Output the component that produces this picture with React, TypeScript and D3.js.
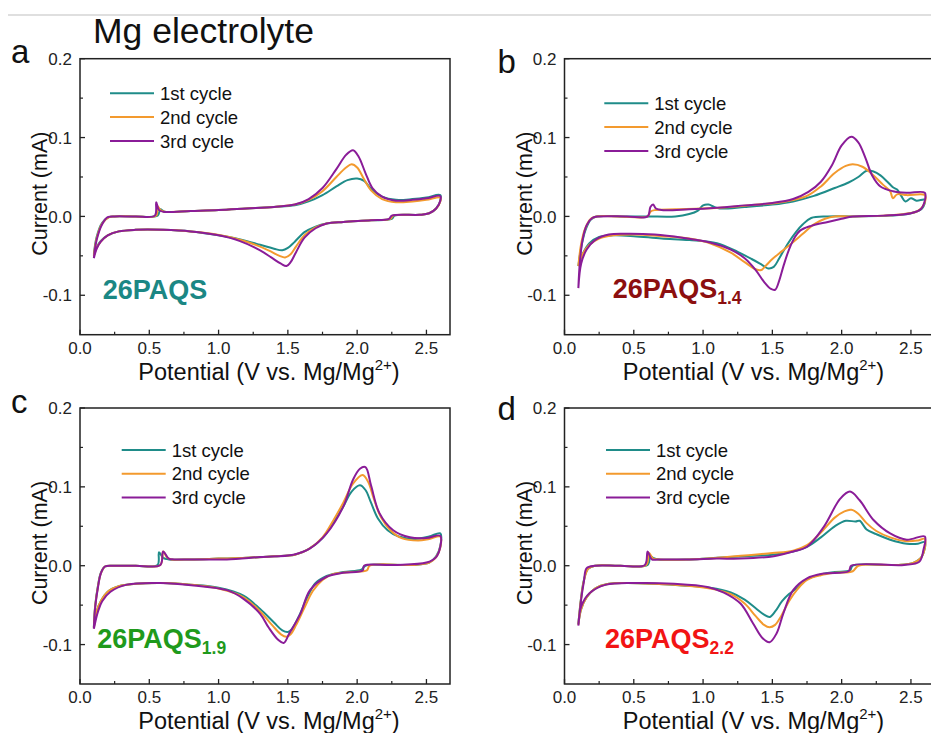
import * as d3 from 'd3'

type Pt = [number, number]

// potential (V) vs current (mA), each cycle traced as one closed loop
const aCycle1: Pt[] = [[0.10,-0.048],[0.12,-0.026],[0.16,-0.008],[0.21,-0.001],[0.25,0.000],[0.40,0.000],[0.56,0.001],[0.58,0.009],[0.61,0.006],[0.80,0.007],[1.00,0.008],[1.20,0.010],[1.40,0.012],[1.55,0.014],[1.65,0.019],[1.75,0.027],[1.85,0.038],[1.93,0.046],[2.00,0.048],[2.05,0.045],[2.10,0.035],[2.18,0.025],[2.28,0.021],[2.40,0.022],[2.50,0.024],[2.60,0.027],[2.60,0.020],[2.57,0.010],[2.52,0.004],[2.45,0.002],[2.27,0.001],[2.25,-0.003],[2.10,-0.005],[1.90,-0.007],[1.78,-0.009],[1.70,-0.013],[1.62,-0.020],[1.55,-0.032],[1.50,-0.040],[1.46,-0.043],[1.40,-0.041],[1.30,-0.036],[1.15,-0.029],[1.00,-0.024],[0.80,-0.019],[0.60,-0.017],[0.40,-0.017],[0.28,-0.019],[0.20,-0.024],[0.15,-0.031],[0.12,-0.039],[0.10,-0.048]]
const aCycle2: Pt[] = [[0.10,-0.050],[0.12,-0.028],[0.16,-0.009],[0.21,-0.001],[0.25,0.000],[0.40,0.000],[0.55,0.001],[0.56,0.013],[0.58,0.008],[0.61,0.006],[0.80,0.007],[1.00,0.008],[1.20,0.010],[1.40,0.012],[1.55,0.015],[1.65,0.021],[1.75,0.032],[1.85,0.050],[1.92,0.062],[1.96,0.066],[2.00,0.062],[2.05,0.047],[2.10,0.033],[2.18,0.022],[2.28,0.018],[2.40,0.019],[2.50,0.021],[2.60,0.024],[2.60,0.019],[2.57,0.010],[2.52,0.004],[2.45,0.002],[2.26,0.001],[2.24,-0.003],[2.10,-0.005],[1.90,-0.007],[1.78,-0.009],[1.70,-0.014],[1.62,-0.024],[1.56,-0.038],[1.52,-0.048],[1.48,-0.052],[1.44,-0.050],[1.36,-0.043],[1.25,-0.035],[1.10,-0.027],[0.95,-0.022],[0.80,-0.019],[0.60,-0.017],[0.40,-0.017],[0.28,-0.019],[0.20,-0.024],[0.15,-0.032],[0.12,-0.040],[0.10,-0.050]]
const aCycle3: Pt[] = [[0.10,-0.053],[0.12,-0.030],[0.16,-0.010],[0.20,-0.001],[0.25,0.000],[0.40,0.000],[0.54,0.001],[0.55,0.018],[0.57,0.008],[0.60,0.006],[0.80,0.007],[1.00,0.008],[1.20,0.010],[1.40,0.012],[1.55,0.015],[1.65,0.022],[1.75,0.036],[1.85,0.060],[1.92,0.078],[1.97,0.084],[2.01,0.076],[2.06,0.055],[2.11,0.036],[2.18,0.025],[2.28,0.020],[2.40,0.021],[2.50,0.023],[2.60,0.026],[2.60,0.020],[2.57,0.010],[2.52,0.004],[2.45,0.002],[2.25,0.001],[2.23,-0.003],[2.10,-0.005],[1.90,-0.007],[1.78,-0.009],[1.70,-0.015],[1.62,-0.027],[1.56,-0.045],[1.52,-0.058],[1.49,-0.063],[1.45,-0.060],[1.38,-0.052],[1.30,-0.043],[1.15,-0.031],[1.00,-0.024],[0.80,-0.019],[0.60,-0.017],[0.40,-0.017],[0.28,-0.019],[0.20,-0.024],[0.15,-0.032],[0.12,-0.041],[0.10,-0.053]]

const bCycle1: Pt[] = [[0.10,-0.063],[0.12,-0.040],[0.15,-0.018],[0.19,-0.004],[0.23,0.000],[0.40,0.000],[0.60,0.000],[0.80,0.000],[0.90,0.003],[0.96,0.007],[1.00,0.014],[1.04,0.015],[1.08,0.012],[1.12,0.010],[1.30,0.012],[1.50,0.015],[1.65,0.019],[1.80,0.026],[1.95,0.036],[2.05,0.043],[2.12,0.050],[2.18,0.058],[2.23,0.057],[2.28,0.052],[2.33,0.044],[2.37,0.037],[2.40,0.034],[2.43,0.026],[2.46,0.019],[2.50,0.023],[2.54,0.020],[2.60,0.021],[2.58,0.010],[2.50,0.004],[2.35,0.001],[2.10,0.000],[1.90,0.000],[1.78,-0.002],[1.72,-0.010],[1.67,-0.020],[1.61,-0.035],[1.55,-0.053],[1.51,-0.064],[1.47,-0.066],[1.43,-0.062],[1.35,-0.054],[1.25,-0.045],[1.10,-0.034],[0.90,-0.030],[0.70,-0.028],[0.50,-0.025],[0.35,-0.024],[0.25,-0.026],[0.18,-0.034],[0.13,-0.048],[0.10,-0.063]]
const bCycle2: Pt[] = [[0.10,-0.063],[0.12,-0.035],[0.15,-0.015],[0.19,-0.003],[0.23,0.000],[0.40,0.000],[0.60,0.000],[0.62,0.006],[0.65,0.008],[0.80,0.009],[1.00,0.010],[1.20,0.012],[1.40,0.015],[1.60,0.019],[1.75,0.026],[1.85,0.038],[1.95,0.055],[2.03,0.064],[2.08,0.066],[2.15,0.063],[2.23,0.052],[2.30,0.040],[2.35,0.032],[2.37,0.023],[2.40,0.028],[2.47,0.027],[2.60,0.027],[2.60,0.018],[2.55,0.007],[2.45,0.003],[2.30,0.001],[2.05,0.000],[1.95,0.000],[1.88,-0.003],[1.80,-0.010],[1.72,-0.022],[1.64,-0.034],[1.57,-0.044],[1.50,-0.054],[1.45,-0.063],[1.42,-0.068],[1.38,-0.067],[1.30,-0.058],[1.20,-0.046],[1.05,-0.034],[0.90,-0.028],[0.70,-0.025],[0.50,-0.023],[0.35,-0.024],[0.25,-0.028],[0.18,-0.036],[0.13,-0.048],[0.10,-0.063]]
const bCycle3: Pt[] = [[0.10,-0.091],[0.11,-0.060],[0.13,-0.030],[0.16,-0.011],[0.20,-0.002],[0.25,0.000],[0.45,0.000],[0.60,0.000],[0.62,0.012],[0.64,0.015],[0.66,0.010],[0.70,0.008],[0.90,0.009],[1.10,0.011],[1.30,0.014],[1.50,0.017],[1.65,0.022],[1.76,0.031],[1.85,0.044],[1.93,0.065],[2.00,0.090],[2.07,0.101],[2.12,0.094],[2.17,0.075],[2.22,0.052],[2.28,0.038],[2.37,0.032],[2.47,0.030],[2.60,0.030],[2.60,0.020],[2.57,0.009],[2.50,0.004],[2.30,0.001],[2.08,0.000],[2.00,-0.003],[1.90,-0.007],[1.78,-0.012],[1.70,-0.018],[1.66,-0.027],[1.62,-0.042],[1.58,-0.063],[1.55,-0.081],[1.52,-0.093],[1.49,-0.092],[1.44,-0.083],[1.38,-0.068],[1.30,-0.053],[1.20,-0.042],[1.05,-0.033],[0.85,-0.027],[0.65,-0.023],[0.45,-0.022],[0.32,-0.023],[0.22,-0.030],[0.16,-0.042],[0.12,-0.060],[0.10,-0.091]]

const cCycle1: Pt[] = [[0.10,-0.078],[0.11,-0.050],[0.13,-0.025],[0.15,-0.009],[0.18,-0.001],[0.25,0.000],[0.40,0.000],[0.56,0.001],[0.57,0.017],[0.60,0.010],[0.64,0.008],[0.80,0.008],[1.00,0.009],[1.20,0.010],[1.40,0.012],[1.55,0.014],[1.65,0.021],[1.75,0.035],[1.83,0.055],[1.90,0.075],[1.96,0.094],[2.02,0.102],[2.06,0.096],[2.10,0.080],[2.15,0.060],[2.22,0.045],[2.30,0.037],[2.42,0.034],[2.52,0.037],[2.60,0.041],[2.60,0.025],[2.57,0.012],[2.52,0.004],[2.40,0.001],[2.06,0.000],[2.03,-0.005],[1.90,-0.008],[1.78,-0.013],[1.70,-0.022],[1.64,-0.040],[1.58,-0.064],[1.53,-0.080],[1.50,-0.084],[1.46,-0.082],[1.40,-0.072],[1.30,-0.055],[1.18,-0.038],[1.00,-0.028],[0.80,-0.024],[0.60,-0.022],[0.40,-0.023],[0.28,-0.026],[0.20,-0.033],[0.15,-0.045],[0.12,-0.058],[0.10,-0.078]]
const cCycle2: Pt[] = [[0.10,-0.079],[0.11,-0.051],[0.13,-0.026],[0.15,-0.010],[0.18,-0.001],[0.25,0.000],[0.40,0.000],[0.58,0.001],[0.60,0.018],[0.63,0.010],[0.66,0.008],[0.80,0.008],[1.00,0.009],[1.20,0.010],[1.40,0.012],[1.55,0.014],[1.65,0.021],[1.75,0.036],[1.83,0.058],[1.90,0.080],[1.97,0.104],[2.04,0.115],[2.08,0.106],[2.12,0.085],[2.17,0.062],[2.24,0.045],[2.32,0.035],[2.44,0.032],[2.52,0.034],[2.60,0.037],[2.60,0.023],[2.57,0.011],[2.52,0.004],[2.40,0.001],[2.09,0.000],[2.07,-0.006],[1.95,-0.008],[1.82,-0.011],[1.75,-0.018],[1.68,-0.032],[1.62,-0.053],[1.56,-0.075],[1.52,-0.087],[1.49,-0.090],[1.45,-0.087],[1.39,-0.076],[1.30,-0.058],[1.18,-0.040],[1.00,-0.029],[0.80,-0.024],[0.60,-0.022],[0.40,-0.023],[0.28,-0.026],[0.20,-0.033],[0.15,-0.045],[0.12,-0.058],[0.10,-0.079]]
const cCycle3: Pt[] = [[0.10,-0.080],[0.11,-0.052],[0.13,-0.027],[0.15,-0.010],[0.18,-0.001],[0.25,0.000],[0.40,0.000],[0.58,0.001],[0.60,0.018],[0.64,0.009],[0.68,0.008],[0.90,0.008],[1.06,0.008],[1.30,0.011],[1.54,0.014],[1.66,0.022],[1.78,0.041],[1.90,0.075],[1.97,0.109],[2.02,0.123],[2.06,0.125],[2.10,0.102],[2.16,0.067],[2.26,0.045],[2.38,0.036],[2.50,0.035],[2.60,0.038],[2.60,0.024],[2.57,0.011],[2.50,0.004],[2.26,0.001],[2.05,0.000],[2.04,-0.006],[1.90,-0.009],[1.78,-0.014],[1.66,-0.031],[1.59,-0.061],[1.51,-0.086],[1.47,-0.098],[1.43,-0.094],[1.36,-0.078],[1.30,-0.061],[1.18,-0.042],[1.06,-0.031],[0.82,-0.025],[0.58,-0.022],[0.34,-0.024],[0.22,-0.033],[0.16,-0.045],[0.13,-0.058],[0.10,-0.080]]

const dCycle1: Pt[] = [[0.10,-0.074],[0.12,-0.040],[0.14,-0.018],[0.17,-0.004],[0.22,0.000],[0.40,0.000],[0.60,0.001],[0.62,0.012],[0.64,0.010],[0.68,0.008],[0.90,0.008],[1.10,0.010],[1.30,0.012],[1.50,0.014],[1.65,0.018],[1.75,0.024],[1.85,0.036],[1.95,0.050],[2.03,0.057],[2.10,0.056],[2.13,0.057],[2.18,0.046],[2.25,0.040],[2.35,0.033],[2.47,0.028],[2.55,0.028],[2.60,0.030],[2.58,0.012],[2.52,0.004],[2.40,0.001],[2.08,0.000],[2.06,-0.006],[1.95,-0.008],[1.85,-0.011],[1.75,-0.017],[1.68,-0.028],[1.62,-0.036],[1.57,-0.045],[1.52,-0.058],[1.48,-0.065],[1.44,-0.062],[1.38,-0.054],[1.30,-0.043],[1.20,-0.034],[1.05,-0.028],[0.85,-0.025],[0.65,-0.023],[0.45,-0.022],[0.32,-0.023],[0.22,-0.029],[0.16,-0.040],[0.12,-0.055],[0.10,-0.074]]
const dCycle2: Pt[] = [[0.10,-0.075],[0.12,-0.041],[0.14,-0.019],[0.17,-0.004],[0.22,0.000],[0.40,0.000],[0.59,0.001],[0.61,0.016],[0.64,0.009],[0.68,0.008],[0.90,0.008],[1.10,0.010],[1.30,0.013],[1.50,0.016],[1.65,0.019],[1.75,0.026],[1.85,0.042],[1.95,0.061],[2.02,0.069],[2.07,0.071],[2.12,0.066],[2.18,0.054],[2.25,0.044],[2.35,0.036],[2.47,0.031],[2.55,0.032],[2.60,0.034],[2.58,0.012],[2.52,0.004],[2.40,0.001],[2.12,0.000],[2.08,-0.007],[1.95,-0.009],[1.85,-0.012],[1.75,-0.018],[1.68,-0.030],[1.62,-0.045],[1.56,-0.065],[1.52,-0.075],[1.48,-0.078],[1.44,-0.075],[1.38,-0.064],[1.30,-0.048],[1.20,-0.036],[1.05,-0.029],[0.85,-0.025],[0.65,-0.023],[0.45,-0.022],[0.32,-0.023],[0.22,-0.029],[0.16,-0.040],[0.12,-0.055],[0.10,-0.075]]
const dCycle3: Pt[] = [[0.10,-0.076],[0.12,-0.043],[0.14,-0.020],[0.16,-0.003],[0.22,0.000],[0.40,0.000],[0.58,0.001],[0.60,0.018],[0.63,0.008],[0.68,0.008],[0.90,0.008],[1.10,0.009],[1.27,0.009],[1.51,0.012],[1.65,0.018],[1.75,0.024],[1.87,0.049],[1.99,0.085],[2.06,0.094],[2.13,0.083],[2.23,0.058],[2.35,0.041],[2.47,0.033],[2.60,0.037],[2.59,0.020],[2.56,0.005],[2.45,0.001],[2.07,0.000],[2.05,-0.007],[1.87,-0.010],[1.75,-0.016],[1.65,-0.031],[1.58,-0.060],[1.53,-0.086],[1.48,-0.097],[1.43,-0.092],[1.36,-0.073],[1.27,-0.048],[1.15,-0.034],[1.03,-0.027],[0.79,-0.023],[0.54,-0.022],[0.30,-0.024],[0.18,-0.035],[0.12,-0.052],[0.10,-0.076]]

const cycleNames = ['1st cycle', '2nd cycle', '3rd cycle']
const cycleColors = ['#1f8c89', '#f39a2e', '#8a1c98']
const xMajor = [0, 0.5, 1, 1.5, 2, 2.5]
const xMinor = [0.25, 0.75, 1.25, 1.75, 2.25]
const yMajor = [0.2, 0.1, 0, -0.1]
const yMinor = [0.15, 0.05, -0.05]

const FONT = '"Liberation Sans", Arial, Helvetica, sans-serif'
const W = 370
const H = 276

type PanelProps = {
  left: number
  top: number
  letter: string
  letterX: number
  letterY: number
  cycles: Pt[][]
  legendX: number
  legendY: number
  sample: string
  sub?: string
  sampleColor: string
  sampleX: number
  sampleY: number
}

function Panel(p: PanelProps) {
  const x = d3.scaleLinear().domain([0, 2.67]).range([0, W])
  const y = d3.scaleLinear().domain([-0.15, 0.2]).range([H, 0])
  const line = d3
    .line<Pt>()
    .x((d) => x(d[0]))
    .y((d) => y(d[1]))
    .curve(d3.curveCatmullRom.alpha(0.5))

  return (
    <g transform={`translate(${p.left},${p.top})`} fontFamily={FONT}>
      <text x={p.letterX} y={p.letterY} fontSize={33} fill="#111">{p.letter}</text>

      {p.cycles.map((c, i) => (
        <path key={i} d={line(c) ?? ''} fill="none" stroke={cycleColors[i]} strokeWidth={2} strokeLinejoin="round" />
      ))}

      <rect x={0} y={0} width={W} height={H} fill="none" stroke="#222" strokeWidth={1.5} />

      {xMajor.map((t) => (
        <g key={'xm' + t}>
          <line x1={x(t)} x2={x(t)} y1={H} y2={H - 5} stroke="#222" strokeWidth={1.3} />
          <text x={x(t)} y={H + 19} fontSize={17} textAnchor="middle" fill="#222">{t.toFixed(1)}</text>
        </g>
      ))}
      {xMinor.map((t) => (
        <line key={'xn' + t} x1={x(t)} x2={x(t)} y1={H} y2={H - 3} stroke="#222" strokeWidth={1.2} />
      ))}
      {yMajor.map((t) => (
        <g key={'ym' + t}>
          <line x1={0} x2={5} y1={y(t)} y2={y(t)} stroke="#222" strokeWidth={1.3} />
          <text x={-8} y={y(t)} dy="0.36em" fontSize={17} textAnchor="end" fill="#222">{t.toFixed(1)}</text>
        </g>
      ))}
      {yMinor.map((t) => (
        <line key={'yn' + t} x1={0} x2={3} y1={y(t)} y2={y(t)} stroke="#222" strokeWidth={1.2} />
      ))}

      <text x={W / 2 + 4} y={H + 45} fontSize={23.5} textAnchor="middle" fill="#111">
        Potential (V vs. Mg/Mg<tspan fontSize={15} dy={-10}>2+</tspan><tspan dy={10}>)</tspan>
      </text>
      <text transform={`translate(-33,${H / 2 - 3}) rotate(-90)`} fontSize={21.5} textAnchor="middle" fill="#111">
        Current (mA)
      </text>

      {cycleNames.map((n, i) => (
        <g key={n} transform={`translate(${p.legendX},${p.legendY + i * 23.8})`}>
          <line x1={0} x2={44} y1={0} y2={0} stroke={cycleColors[i]} strokeWidth={2} />
          <text x={50} y={0} dy="0.36em" fontSize={18.5} fill="#111">{n}</text>
        </g>
      ))}

      <text x={p.sampleX} y={p.sampleY} fontSize={27} fontWeight="bold" fill={p.sampleColor}>
        {p.sample}
        {p.sub && <tspan fontSize={17.5} dy={6}>{p.sub}</tspan>}
      </text>
    </g>
  )
}

export default function App() {
  return (
    <svg width={931} height={733} style={{ position: 'absolute', left: 0, top: 0, background: '#fff' }}>
      <line x1={8} x2={931} y1={15} y2={15} stroke="#d4d4d4" strokeWidth={1.5} />
      <text x={93} y={43} fontSize={35.5} fontFamily={FONT} fill="#111">Mg electrolyte</text>
      <Panel left={80} top={58.7} letter="a" letterX={-69} letterY={4.5} cycles={[aCycle1, aCycle2, aCycle3]}
        legendX={30} legendY={34.6} sample="26PAQS" sampleColor="#1b8784" sampleX={22.7} sampleY={240.6} />
      <Panel left={564.5} top={58.7} letter="b" letterX={-67} letterY={14} cycles={[bCycle1, bCycle2, bCycle3]}
        legendX={39.8} legendY={44.6} sample="26PAQS" sub="1.4" sampleColor="#8c0f0f" sampleX={48.2} sampleY={239.6} />
      <Panel left={80} top={408} letter="c" letterX={-69} letterY={5} cycles={[cCycle1, cCycle2, cCycle3]}
        legendX={41.7} legendY={42} sample="26PAQS" sub="1.9" sampleColor="#1f9a1c" sampleX={17.3} sampleY={240.3} />
      <Panel left={564.5} top={408} letter="d" letterX={-67} letterY={12} cycles={[dCycle1, dCycle2, dCycle3]}
        legendX={41.5} legendY={42} sample="26PAQS" sub="2.2" sampleColor="#f21414" sampleX={40.5} sampleY={240.3} />
    </svg>
  )
}
